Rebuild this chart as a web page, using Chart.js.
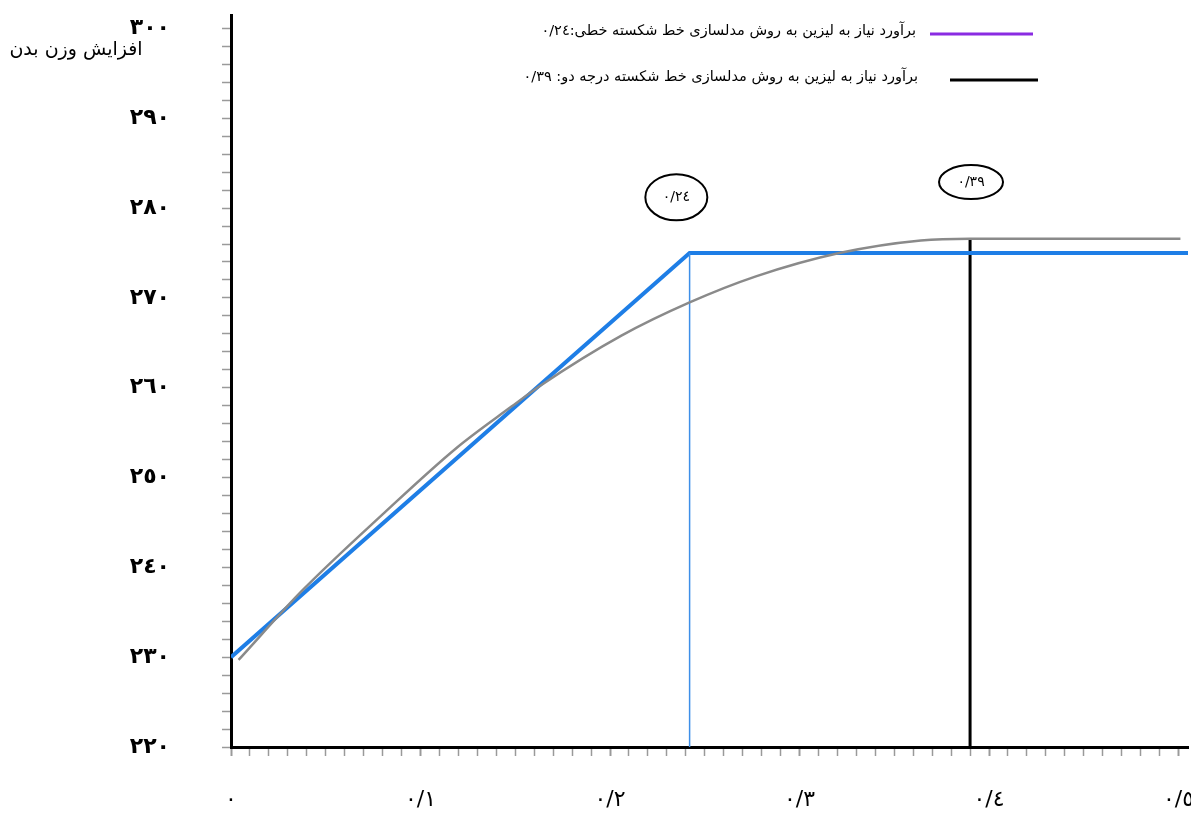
<!DOCTYPE html>
<html>
<head>
<meta charset="utf-8">
<script src="https://cdn.jsdelivr.net/npm/chart.js@4"></script>
<style>
  body { margin: 0; background: #fff; }
  #wrap { width: 1191px; height: 814px; position: relative; }
</style>
</head>
<body>
<div id="wrap"><canvas id="LysineChart"></canvas></div>
<script>
// values
const linearX = [0, 0.242, 0.505];
const linearY = [230, 275, 275];
const quadX = [0.004, 0.037, 0.081, 0.119, 0.148, 0.163, 0.206, 0.242, 0.277, 0.321, 0.364, 0.39, 0.45, 0.501];
const quadY = [229.7, 237.3, 246.1, 253.3, 257.9, 260.2, 265.8, 269.5, 272.4, 275.0, 276.4, 276.6, 276.6, 276.6];
const linearBreak = [0.242, 275];
const quadBreak = [0.39, 276.6];
const yTickValues = [220, 230, 240, 250, 260, 270, 280, 290, 300];
const xTickValues = [0, 0.1, 0.2, 0.3, 0.4, 0.5];
const legendLabels = [
  "برآورد نیاز به لیزین به روش مدلسازی خط شکسته خطی:٠/٢٤",
  "برآورد نیاز به لیزین به روش مدلسازی خط شکسته درجه دو: ٠/٣٩"
];
const noteLabels = ["٠/٢٤", "٠/٣٩"];
const yTitle = "افزایش وزن بدن";

const Y_MIN = 220, Y_MAX = 301.5;

function toArabic(s) {
  return String(s).replace(/[0-9]/g, d => "٠١٢٣٤٥٦٧٨٩"[d]);
}

function pts(xs, ys) {
  return xs.map((v, i) => ({ x: v, y: ys[i] }));
}

const overlay = {
  id: "overlay",
  afterDatasetsDraw(chart) {
    const ctx = chart.ctx;
    const x = chart.scales.x, y = chart.scales.y;
    ctx.save();
    // circled notes above the breakpoints
    const notes = [
      { x: 0.235, y: 281.2, rx: 31, ry: 23 },
      { x: 0.3905, y: 282.9, rx: 32, ry: 17 }
    ];
    notes.forEach((n, i) => {
      const cx = x.getPixelForValue(n.x), cy = y.getPixelForValue(n.y);
      ctx.beginPath();
      ctx.ellipse(cx, cy, n.rx, n.ry, 0, 0, Math.PI * 2);
      ctx.lineWidth = 2;
      ctx.strokeStyle = "#000";
      ctx.stroke();
      ctx.fillStyle = "#000";
      ctx.font = "14px 'DejaVu Sans'";
      ctx.textAlign = "center";
      ctx.textBaseline = "middle";
      ctx.fillText(noteLabels[i], cx, cy);
    });
    ctx.restore();
  },
  afterDraw(chart) {
    const ctx = chart.ctx;
    ctx.save();
    // y axis title
    ctx.fillStyle = "#000";
    ctx.font = "19px 'DejaVu Sans'";
    ctx.textAlign = "center";
    ctx.textBaseline = "middle";
    ctx.direction = "rtl";
    ctx.fillText(yTitle, 76, 50);
    // legend
    const colors = ["#8a2be2", "#000000"];
    const rows = [{ y: 34, x0: 930, x1: 1033, tx: 916 }, { y: 80, x0: 950, x1: 1038, tx: 918 }];
    rows.forEach((r, i) => {
      ctx.beginPath();
      ctx.moveTo(r.x0, r.y);
      ctx.lineTo(r.x1, r.y);
      ctx.lineWidth = 3;
      ctx.strokeStyle = colors[i];
      ctx.stroke();
      ctx.fillStyle = "#000";
      ctx.font = "14.5px 'DejaVu Sans'";
      ctx.direction = "rtl";
      ctx.textAlign = "right";
      ctx.textBaseline = "middle";
      ctx.fillText(legendLabels[i], r.tx, r.y - 3);
    });
    ctx.restore();
  }
};

new Chart(document.getElementById("LysineChart"), {
  type: "scatter",
  data: {
    datasets: [
      {
        label: "quadratic",
        data: pts(quadX, quadY),
        showLine: true,
        borderColor: "#8a8a8a",
        borderWidth: 2.5,
        pointRadius: 0,
        cubicInterpolationMode: "monotone"
      },
      {
        label: "linear break",
        data: [{ x: linearBreak[0], y: linearBreak[1] }, { x: linearBreak[0], y: Y_MIN }],
        showLine: true,
        borderColor: "#3d8fe8",
        borderWidth: 1.5,
        pointRadius: 0
      },
      {
        label: "linear",
        data: pts(linearX, linearY),
        showLine: true,
        borderColor: "#1e7ee6",
        borderWidth: 4,
        pointRadius: 0
      },
      {
        label: "quad break",
        data: [{ x: quadBreak[0], y: quadBreak[1] }, { x: quadBreak[0], y: Y_MIN }],
        showLine: true,
        borderColor: "#000",
        borderWidth: 3,
        pointRadius: 0
      }
    ]
  },
  options: {
    responsive: true,
    maintainAspectRatio: false,
    animation: false,
    layout: { padding: { top: 15, right: 3 } },
    plugins: { legend: { display: false }, tooltip: { enabled: false } },
    scales: {
      x: {
        type: "linear",
        min: 0,
        max: 0.505,
        afterFit: function (s) { s.height = 67; s.paddingLeft = 0; s.paddingRight = 0; },
        border: { color: "#000", width: 3 },
        grid: {
          drawOnChartArea: false,
          tickLength: 9,
          tickColor: "#9a9a9a",
          tickWidth: c => (Math.round(c.tick.value * 100) % 10 === 0 ? 2 : 1.5)
        },
        ticks: {
          stepSize: 0.01,
          autoSkip: false,
          maxRotation: 0,
          includeBounds: false,
          padding: 31,
          color: "#000",
          font: { family: "DejaVu Sans", size: 22 },
          callback: function (v) {
            const h = Math.round(v * 100);
            if (h % 10 !== 0) return "";
            const t = xTickValues.find(q => Math.round(q * 100) === h);
            if (t === undefined) return "";
            return t === 0 ? "٠" : "٠/" + toArabic(h / 10);
          }
        }
      },
      y: {
        min: Y_MIN,
        max: Y_MAX,
        afterFit: function (s) { s.width = 231; s.paddingTop = 0; s.paddingBottom = 0; },
        border: { color: "#000", width: 3 },
        grid: {
          drawOnChartArea: false,
          tickLength: 9,
          tickColor: "#9a9a9a",
          tickWidth: 1.5
        },
        ticks: {
          stepSize: 2,
          autoSkip: false,
          includeBounds: false,
          padding: 52,
          color: "#000",
          font: { family: "DejaVu Sans", size: 22, weight: "bold" },
          callback: function (v) {
            const r = Math.round(v);
            return yTickValues.includes(r) ? toArabic(r) : "";
          }
        }
      }
    }
  },
  plugins: [overlay]
});
</script>
</body>
</html>
